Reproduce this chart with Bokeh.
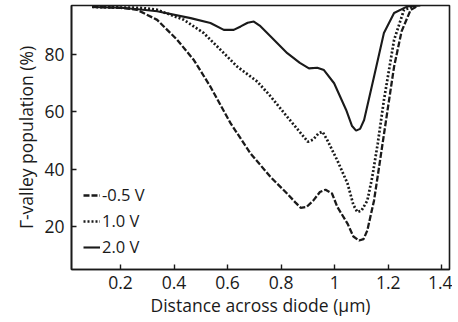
from bokeh.plotting import figure
from bokeh.models import Range1d, Legend, LegendItem, FixedTicker
from bokeh.embed import file_html
from bokeh.resources import INLINE

# -0.5 V (dashed)
x_a = [0.094, 0.2, 0.262, 0.337, 0.412, 0.474, 0.536, 0.611, 0.686, 0.761, 0.823,
       0.855, 0.873, 0.895, 0.92, 0.945, 0.966, 0.99, 1.01, 1.048, 1.07, 1.091, 1.108,
       1.122, 1.147, 1.160, 1.179, 1.20, 1.222, 1.25, 1.284, 1.31]
y_a = [96.5, 96.2, 95.5, 92.0, 85.0, 78.0, 68.7, 56.0, 45.4, 37.2, 31.4,
       28.2, 26.5, 26.8, 29.0, 32.0, 32.8, 31.5, 26.8, 21.0, 16.5, 15.1, 15.6,
       18.6, 29.0, 37.0, 48.9, 62.0, 75.7, 88.0, 95.5, 96.8]

# 1.0 V (dotted)
x_b = [0.094, 0.2, 0.275, 0.337, 0.437, 0.511, 0.586, 0.636, 0.711, 0.761, 0.823,
       0.885, 0.90, 0.92, 0.94, 0.955, 0.973, 1.01, 1.048, 1.07, 1.085, 1.10, 1.122,
       1.140, 1.161, 1.184, 1.222, 1.259, 1.30]
y_b = [96.5, 96.3, 96.2, 95.5, 92.0, 87.4, 80.4, 75.7, 70.5, 65.3, 58.2,
       51.2, 49.5, 50.3, 52.5, 53.0, 50.0, 43.0, 35.0, 27.5, 25.0, 25.5, 29.0,
       37.0, 48.9, 64.0, 85.0, 95.5, 96.8]

# 2.0 V (solid)
x_c = [0.094, 0.2, 0.275, 0.337, 0.462, 0.536, 0.586, 0.623, 0.649, 0.675, 0.698,
       0.72, 0.761, 0.823, 0.87, 0.904, 0.935, 0.960, 0.998, 1.043, 1.065, 1.080,
       1.095, 1.110, 1.147, 1.184, 1.222, 1.272, 1.32]
y_c = [96.5, 96.2, 95.6, 95.0, 92.6, 90.9, 88.5, 88.5, 89.7, 91.0, 91.4,
       90.0, 86.2, 80.4, 77.0, 75.1, 75.3, 74.5, 69.9, 60.6, 55.0, 53.4,
       54.0, 57.1, 72.2, 87.4, 94.4, 96.7, 97.0]

x_ticks = [0.2, 0.4, 0.6, 0.8, 1.0, 1.2, 1.4]
y_ticks = [20, 40, 60, 80]
labels = ["-0.5 V", "1.0 V", "2.0 V"]

FONT = "Open Sans"
INK = "#1a1a1a"

p = figure(width=452, height=320, output_backend="svg", toolbar_location=None,
           x_range=Range1d(0.017, 1.429), y_range=Range1d(5, 97),
           min_border_left=71, min_border_right=3, min_border_top=5,
           min_border_bottom=51)
p.outline_line_color = INK
p.outline_line_width = 1.6
p.grid.visible = False
p.background_fill_color = "white"
p.border_fill_color = "white"

ra = p.line(x_a, y_a, line_color=INK, line_width=2.3, line_dash="6 2")
rb = p.line(x_b, y_b, line_color=INK, line_width=2.7, line_dash="2 2")
rc = p.line(x_c, y_c, line_color=INK, line_width=2.1)

for ax in (p.xaxis[0], p.yaxis[0]):
    ax.axis_line_color = INK
    ax.axis_line_width = 1.6
    ax.major_tick_in = 5
    ax.major_tick_out = 0
    ax.major_tick_line_color = INK
    ax.major_tick_line_width = 1.4
    ax.minor_tick_line_color = None
    ax.major_label_text_font = FONT
    ax.major_label_text_font_size = "17.5px"
    ax.major_label_text_color = INK
    ax.axis_label_text_font = FONT
    ax.axis_label_text_font_size = "17.5px"
    ax.axis_label_text_font_style = "normal"
    ax.axis_label_text_color = INK

p.xaxis.ticker = FixedTicker(ticks=x_ticks)
p.yaxis.ticker = FixedTicker(ticks=y_ticks)
p.xaxis.axis_label = "Distance across diode (μm)"
p.yaxis.axis_label = "Γ-valley population (%)"
p.xaxis.major_label_standoff = 6
p.yaxis.major_label_standoff = 7
p.xaxis.axis_label_standoff = 1
p.yaxis.axis_label_standoff = 3

legend = Legend(items=[LegendItem(label=labels[0], renderers=[ra]),
                       LegendItem(label=labels[1], renderers=[rb]),
                       LegendItem(label=labels[2], renderers=[rc])],
                location=(12, 11), orientation="vertical")
legend.background_fill_alpha = 0
legend.border_line_color = None
legend.label_text_font = FONT
legend.label_text_font_size = "16.5px"
legend.label_text_color = INK
legend.glyph_width = 17
legend.glyph_height = 18
legend.label_standoff = 2
legend.spacing = 3
legend.padding = 4
legend.margin = 0
legend.label_height = 18
p.add_layout(legend, "center")

open("out.html", "w").write(file_html(p, INLINE))
